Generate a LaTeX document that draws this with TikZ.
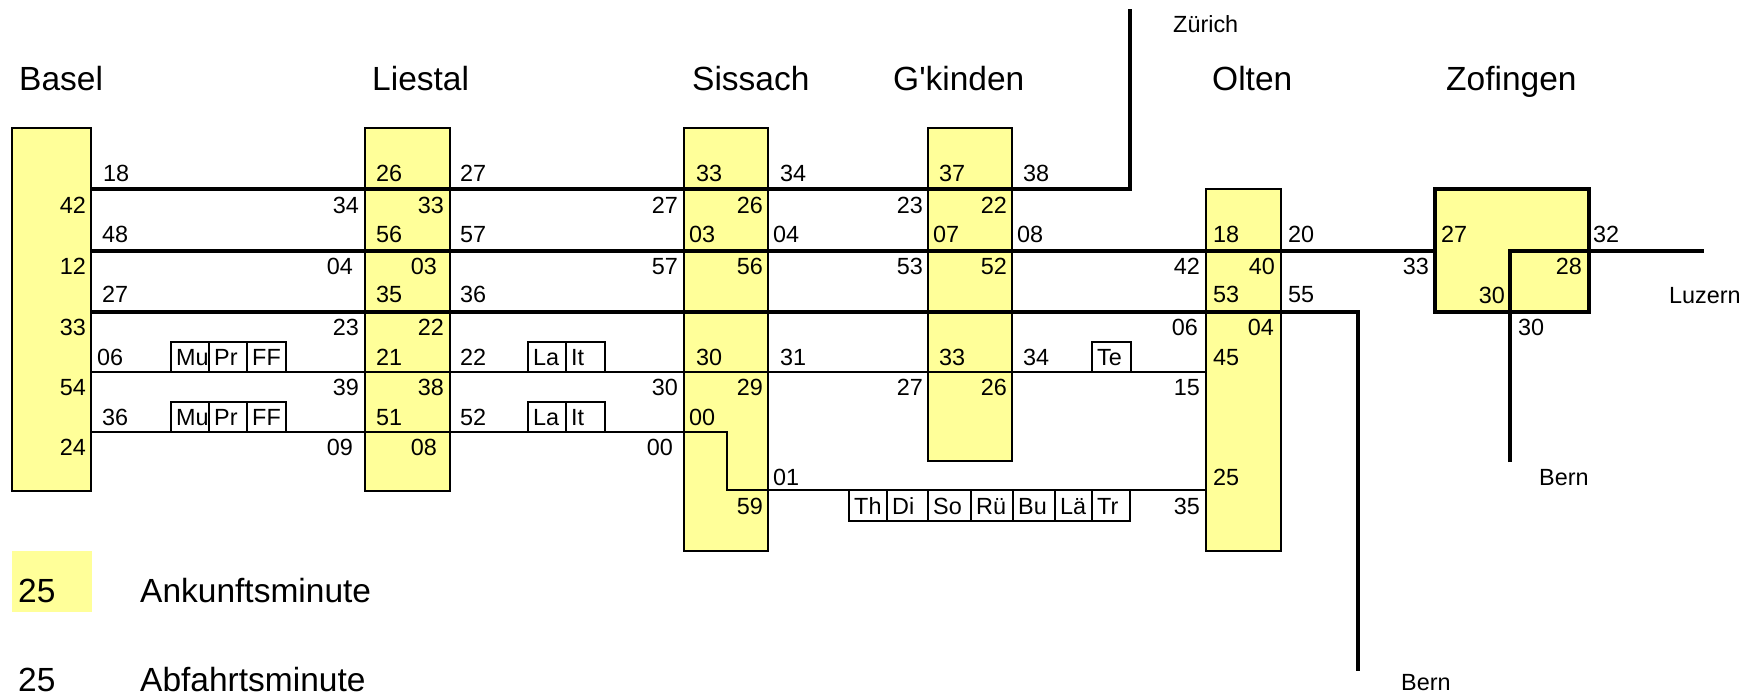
\documentclass[tikz,border=0pt]{standalone}
\usepackage{fontspec}
\setmainfont{Liberation Sans}
\usepackage{tikz}
\newcommand{\zeitfont}{\fontsize{23.4}{28}\selectfont}
\newcommand{\ortfont}{\fontsize{33.5}{40}\selectfont}
\definecolor{gelb}{RGB}{255,255,153}

\begin{document}
\begin{tikzpicture}[x=1pt, y=-1pt, line join=miter,
    zeit/.style={font=\zeitfont, inner sep=0pt},
    links/.style={zeit, anchor=base west},
    rechts/.style={zeit, anchor=base east},
    ort/.style={font=\ortfont, inner sep=0pt, anchor=base west},
    bahnhof/.style={draw, fill=gelb, line width=2.8pt},
    ic/.style={line width=4.2pt},
    regio/.style={line width=2.6pt},
    halt/.style={draw, fill=white, line width=2.2pt}]
\useasboundingbox (0,0) rectangle (1758,696);

% Bahnhoefe
\draw[bahnhof] (12,128) rectangle (91,491);
\draw[bahnhof] (365,128) rectangle (450,491);
\draw[bahnhof] (684,128) rectangle (768,551);
\draw[bahnhof] (928,128) rectangle (1012,461);
\draw[bahnhof] (1206,189) rectangle (1281,551);
\draw[bahnhof, line width=4.2pt] (1435,189) rectangle (1589,312);

% Linien
\draw[ic] (91,189) -- (1130,189) -- (1130,9);
\draw[ic] (91,251) -- (1435,251);
\draw[ic] (1510,462) -- (1510,251) -- (1704,251);
\draw[ic] (91,312) -- (1358,312) -- (1358,671);
\draw[regio] (91,372) -- (1206,372);
\draw[regio] (91,432) -- (727,432) -- (727,490) -- (1206,490);

% Halte
\foreach \a/\b/\t [count=\i] in {171/209/Mu, 209/247/Pr, 247/286/FF, 528/566/La, 566/605/It, 1092/1131/Te}
{
    \draw[halt] (\a,342) rectangle (\b,372);
    \node[links] (ha\i) at (\a+5,365) {\t};
}
\foreach \a/\b/\t [count=\i] in {171/209/Mu, 209/247/Pr, 247/286/FF, 528/566/La, 566/605/It}
{
    \draw[halt] (\a,402) rectangle (\b,432);
    \node[links] (hb\i) at (\a+5,425) {\t};
}
\foreach \a/\b/\t [count=\i] in {849/887/Th, 887/928/Di, 928/971/So, 971/1013/Rü, 1013/1055/Bu, 1055/1092/Lä, 1092/1130/Tr}
{
    \draw[halt] (\a,490) rectangle (\b,521);
    \node[links] (hc\i) at (\a+5,514) {\t};
}

% Minuten
\foreach \x/\y/\t [count=\i] in {103/181/18, 376/181/26, 460/181/27, 696/181/33, 780/181/34, 939/181/37, 1023/181/38,
    102/242/48, 376/242/56, 460/242/57, 689/242/03, 773/242/04, 933/242/07, 1017/242/08, 1213/242/18, 1288/242/20, 1441/242/27, 1593/242/32,
    102/302/27, 376/302/35, 460/302/36, 1213/302/53, 1288/302/55, 1518/335/30,
    97/365/06, 376/365/21, 460/365/22, 696/365/30, 780/365/31, 939/365/33, 1023/365/34, 1213/365/45,
    102/425/36, 376/425/51, 460/425/52, 689/425/00, 773/485/01, 1213/485/25}
{
    \node[links] (l\i) at (\x,\y) {\t};
}
\foreach \x/\y/\t [count=\i] in {86/213/42, 359/213/34, 444/213/33, 678/213/27, 763/213/26, 923/213/23, 1007/213/22,
    86/274/12, 353/274/04, 437/274/03, 678/274/57, 763/274/56, 923/274/53, 1007/274/52, 1200/274/42, 1275/274/40, 1429/274/33, 1582/274/28,
    1505/303/30, 86/335/33, 359/335/23, 444/335/22, 1198/335/06, 1274/335/04,
    86/395/54, 359/395/39, 444/395/38, 678/395/30, 763/395/29, 923/395/27, 1007/395/26, 1200/395/15,
    86/455/24, 353/455/09, 437/455/08, 673/455/00, 763/514/59, 1200/514/35}
{
    \node[rechts] (r\i) at (\x,\y) {\t};
}

% Orte
\node[ort] (basel) at (19,90) {Basel};
\node[ort] (liestal) at (372,90) {Liestal};
\node[ort] (sissach) at (692,90) {Sissach};
\node[ort] (gkinden) at (893,90) {G\textquotesingle kinden};
\node[ort] (olten) at (1212,90) {Olten};
\node[ort] (zofingen) at (1446,90) {Zofingen};
\node[links] (zuerich) at (1173,32) {Zürich};
\node[links] (luzern) at (1669,303) {Luzern};
\node[links] (bernA) at (1539,485) {Bern};
\node[links] (bernB) at (1401,690) {Bern};

% Legende
\fill[gelb] (12,551) rectangle (92,612);
\node[ort] (an) at (18,602) {25};
\node[ort] (antext) at (140,602) {Ankunftsminute};
\node[ort] (ab) at (18,691) {25};
\node[ort] (abtext) at (140,691) {Abfahrtsminute};
\end{tikzpicture}
\end{document}
